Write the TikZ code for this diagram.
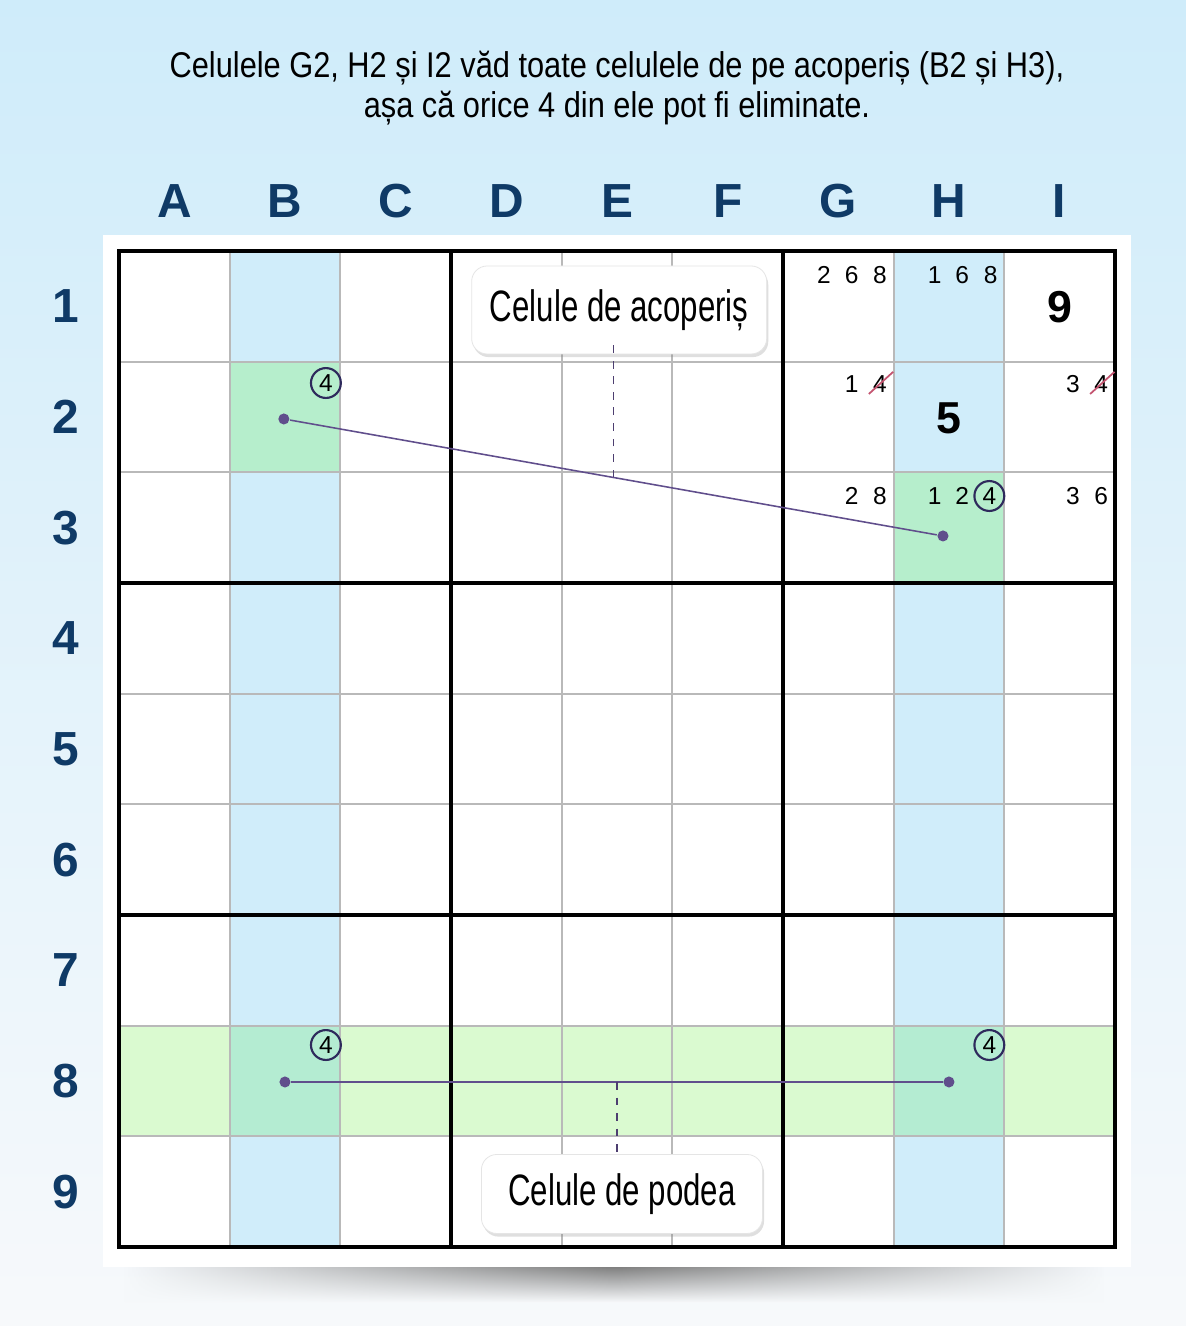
\documentclass[tikz,border=0pt]{standalone}
\usepackage{fontspec}
\setmainfont{Liberation Sans}
\newfontfamily\titlefont[FakeStretch=0.86]{Liberation Sans}
\newfontfamily\tagfont[FakeStretch=0.71]{Liberation Sans}
\usetikzlibrary{shadows,fadings}

\definecolor{bgtop}{RGB}{207,236,250}
\definecolor{bgmid}{RGB}{226,242,251}
\definecolor{bgbot}{RGB}{247,249,251}
\definecolor{headblue}{RGB}{15,58,102}
\definecolor{colblue}{RGB}{208,237,250}
\definecolor{rowgreen}{RGB}{218,250,208}
\definecolor{roofgreen}{RGB}{182,238,204}
\definecolor{crossgreen}{RGB}{180,236,210}
\definecolor{linkpurple}{RGB}{96,78,140}
\definecolor{ringnavy}{RGB}{46,42,92}
\definecolor{strikered}{RGB}{196,84,112}

\tikzfading[name=shadowsides, left color=transparent!100, right color=transparent!100, middle color=transparent!0]

\tikzset{
    colhead/.style={font=\bfseries\fontsize{12.3}{14}\selectfont, text=headblue, anchor=center},
    rowhead/.style={font=\bfseries\fontsize{12.3}{14}\selectfont, text=headblue, anchor=center},
    cand/.style={font=\fontsize{6.3}{7}\selectfont, anchor=center, inner sep=0pt},
    given/.style={font=\bfseries\fontsize{11.5}{13}\selectfont, anchor=center},
    ring/.style={circle, draw=ringnavy, line width=0.55pt, minimum size=0.27cm, inner sep=0pt, font=\fontsize{6.3}{7}\selectfont},
    dot/.style={circle, fill=linkpurple, minimum size=0.1cm, inner sep=0pt},
    link/.style={linkpurple, line width=0.4pt},
    linkdash/.style={linkpurple!80!black, line width=0.4pt, dash pattern=on 2pt off 2pt},
    strike/.style={strikered, line width=0.45pt},
    tag/.style={rounded corners=0.14cm, fill=white, draw=gray!20, line width=0.2pt,
        drop shadow={shadow xshift=0.4pt, shadow yshift=-0.8pt, opacity=0.25},
        font=\tagfont\fontsize{11.3}{13}\selectfont, anchor=center, inner sep=0pt},
}

\begin{document}
\begin{tikzpicture}
    \useasboundingbox (-1.075,-0.714) rectangle (9.641,11.268);
    \shade[top color=bgtop, middle color=bgmid, bottom color=bgbot] (-1.075,-0.714) rectangle (9.641,11.268);
    \shade[top color=black!50, bottom color=bgbot, path fading=shadowsides] (0.05,-0.18) rectangle (8.9,-0.5);
    \fill[white] (-0.145,-0.18) rectangle (9.144,9.145);

    \node[font=\titlefont\fontsize{9.2}{10.3}\selectfont, align=center, anchor=center] (title) at (4.5,10.473)
        {Celulele G2, H2 și I2 văd toate celulele de pe acoperiș (B2 și H3),\\așa că orice 4 din ele pot fi eliminate.};

    \node[colhead] (ca) at (0.5,9.452){A};
    \node[colhead] (cb) at (1.5,9.452){B};
    \node[colhead] (cc) at (2.5,9.452){C};
    \node[colhead] (cd) at (3.5,9.452){D};
    \node[colhead] (ce) at (4.5,9.452){E};
    \node[colhead] (cf) at (5.5,9.452){F};
    \node[colhead] (cg) at (6.5,9.452){G};
    \node[colhead] (ch) at (7.5,9.452){H};
    \node[colhead] (ci) at (8.5,9.452){I};

    \node[rowhead] (r1) at (-0.479,8.5){1};
    \node[rowhead] (r2) at (-0.479,7.5){2};
    \node[rowhead] (r3) at (-0.479,6.5){3};
    \node[rowhead] (r4) at (-0.479,5.5){4};
    \node[rowhead] (r5) at (-0.479,4.5){5};
    \node[rowhead] (r6) at (-0.479,3.5){6};
    \node[rowhead] (r7) at (-0.479,2.5){7};
    \node[rowhead] (r8) at (-0.479,1.5){8};
    \node[rowhead] (r9) at (-0.479,0.5){9};

    \fill[colblue] (1,0) rectangle (2,9);
    \fill[colblue] (7,0) rectangle (8,9);
    \fill[rowgreen] (0,1) rectangle (9,2);
    \fill[roofgreen] (1,7) rectangle (2,8);
    \fill[roofgreen] (7,6) rectangle (8,7);
    \fill[crossgreen] (1,1) rectangle (2,2);
    \fill[crossgreen] (7,1) rectangle (8,2);

    \draw[step=1cm,gray!55,line width=0.45pt] (0,0) grid (9,9);
    \draw[step=3cm,black,line width=0.85pt] (0,0) grid (9,9);
    \draw[black,line width=1.2pt] (0,0) rectangle (9,9);

    \node[cand] (g1a) at (6.37,8.783){2};
    \node[cand] (g1b) at (6.62,8.783){6};
    \node[cand] (g1c) at (6.876,8.783){8};
    \node[cand] (h1a) at (7.37,8.783){1};
    \node[cand] (h1b) at (7.62,8.783){6};
    \node[cand] (h1c) at (7.876,8.783){8};
    \node[given] (i1) at (8.5,8.49){9};

    \node[cand] (g2a) at (6.62,7.798){1};
    \node[cand] (g2x) at (6.876,7.798){4};
    \node[given] (h2) at (7.5,7.49){5};
    \node[cand] (i2a) at (8.62,7.798){3};
    \node[cand] (i2x) at (8.876,7.798){4};
    \draw[strike] ([xshift=-0.1cm,yshift=-0.09cm]g2x.center) -- ([xshift=0.12cm,yshift=0.11cm]g2x.center);
    \draw[strike] ([xshift=-0.1cm,yshift=-0.09cm]i2x.center) -- ([xshift=0.12cm,yshift=0.11cm]i2x.center);

    \node[cand] (g3a) at (6.62,6.786){2};
    \node[cand] (g3b) at (6.876,6.786){8};
    \node[cand] (h3a) at (7.37,6.786){1};
    \node[cand] (h3b) at (7.62,6.786){2};
    \node[ring] (h3r) at (7.865,6.786){4};
    \node[cand] (i3a) at (8.62,6.786){3};
    \node[cand] (i3b) at (8.876,6.786){6};

    \node[ring] (b2r) at (1.87,7.807){4};
    \node[ring] (b8r) at (1.87,1.825){4};
    \node[ring] (h8r) at (7.865,1.825){4};

    \node[dot] (b2) at (1.49,7.482){};
    \node[dot] (h3) at (7.446,6.425){};
    \node[dot] (b8) at (1.5,1.491){};
    \node[dot] (h8) at (7.5,1.491){};
    \draw[link] (b2) -- (h3) coordinate[pos=0.5] (roofmid);
    \draw[link] (b8) -- (h8) coordinate[pos=0.5] (floormid);

    \node[tag, minimum width=2.666cm, minimum height=0.795cm] (roof) at (4.52,8.467){Celule de acoperiș};
    \node[tag, minimum width=2.54cm, minimum height=0.714cm] (floor) at (4.545,0.479){Celule de podea};

    \draw[linkdash] (roofmid) -- ([yshift=4pt]roofmid |- roof.south);
    \draw[linkdash] (floormid) -- (floormid |- floor.north);
\end{tikzpicture}
\end{document}
